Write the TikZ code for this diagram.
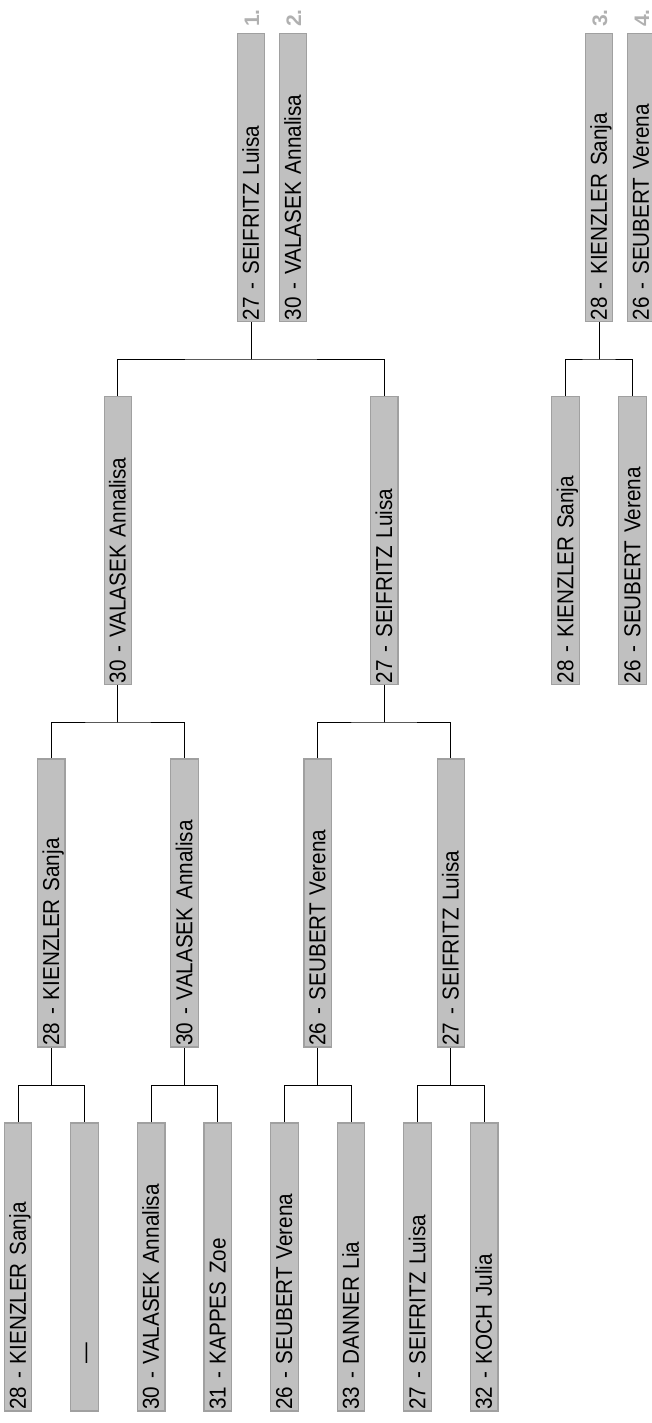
\documentclass[tikz,border=0pt]{standalone}
\usepackage{fontspec}
\setmainfont{Liberation Sans}
\newfontfamily\namefont[FakeStretch=0.9]{Liberation Sans}
\usetikzlibrary{positioning}
\definecolor{boxfill}{HTML}{C0C0C0}
\definecolor{boxline}{HTML}{A0A0A0}
\definecolor{rankgray}{HTML}{B0B0B0}

\begin{document}
\begin{tikzpicture}[x=1pt, y=-1pt,
	fighter/.style={draw=boxline, fill=boxfill, line width=1.2pt, rotate=90,
		minimum width=288pt, minimum height=27.5pt, inner xsep=1.5pt, inner ysep=0pt,
		text width=285pt, align=left, text height=21.5pt, text depth=6pt,
		font=\namefont\fontsize{23}{23}\selectfont},
	rank/.style={rotate=90, anchor=base west, inner sep=0pt, text=rankgray,
		font=\bfseries\fontsize{21}{21}\selectfont},
	line/.style={line width=1pt}]
	\useasboundingbox (0,0) rectangle (651,1423);
	\node[fighter] (q1) at (18,1267) {28 - KIENZLER Sanja};
	\node[fighter] (q2) at (84.6,1267) {\hspace*{46pt}—};
	\node[fighter] (q3) at (151.2,1267) {30 - VALASEK Annalisa};
	\node[fighter] (q4) at (217.8,1267) {31 - KAPPES Zoe};
	\node[fighter] (q5) at (284.4,1267) {26 - SEUBERT Verena};
	\node[fighter] (q6) at (351,1267) {33 - DANNER Lia};
	\node[fighter] (q7) at (417.6,1267) {27 - SEIFRITZ Luisa};
	\node[fighter] (q8) at (484.2,1267) {32 - KOCH Julia};
	\node[fighter] (s1) at (51.3,903) {28 - KIENZLER Sanja};
	\node[fighter] (s2) at (184.5,903) {30 - VALASEK Annalisa};
	\node[fighter] (s3) at (317.7,903) {26 - SEUBERT Verena};
	\node[fighter] (s4) at (450.9,903) {27 - SEIFRITZ Luisa};
	\node[fighter] (h1) at (117.9,540.5) {30 - VALASEK Annalisa};
	\node[fighter] (h2) at (384.3,540.5) {27 - SEIFRITZ Luisa};
	\node[fighter] (gold) at (251.1,177.5) {27 - SEIFRITZ Luisa};
	\node[fighter] (silver) at (293,177.5) {30 - VALASEK Annalisa};
	\node[fighter] (b1) at (565.5,540.5) {28 - KIENZLER Sanja};
	\node[fighter] (b2) at (632.5,540.5) {26 - SEUBERT Verena};
	\node[fighter] (bronze) at (599,177.5) {28 - KIENZLER Sanja};
	\node[fighter] (fourth) at (641,177.5) {26 - SEUBERT Verena};
	\node[rank] (r1) at ([xshift=8pt, yshift=6pt]gold.east) {1.};
	\node[rank] (r2) at ([xshift=8pt, yshift=6pt]silver.east) {2.};
	\node[rank] (r3) at ([xshift=8pt, yshift=6pt]bronze.east) {3.};
	\node[rank] (r4) at ([xshift=8pt, yshift=6pt]fourth.east) {4.};
	\coordinate (m1) at (51.3,1085);
	\coordinate (m2) at (184.5,1085);
	\coordinate (m3) at (317.7,1085);
	\coordinate (m4) at (450.9,1085);
	\coordinate (n1) at (117.9,722);
	\coordinate (n2) at (384.3,722);
	\coordinate (f1) at (251.1,359);
	\coordinate (f2) at (599,359);
	\draw[line] (q1.east) |- (m1) -| (q2.east) (m1) -- (s1.west);
	\draw[line] (q3.east) |- (m2) -| (q4.east) (m2) -- (s2.west);
	\draw[line] (q5.east) |- (m3) -| (q6.east) (m3) -- (s3.west);
	\draw[line] (q7.east) |- (m4) -| (q8.east) (m4) -- (s4.west);
	\draw[line] (s1.east) |- (n1) -| (s2.east) (n1) -- (h1.west);
	\draw[line] (s3.east) |- (n2) -| (s4.east) (n2) -- (h2.west);
	\draw[line] (h1.east) |- (f1) -| (h2.east) (f1) -- (gold.west);
	\draw[line] (b1.east) |- (f2) -| (b2.east) (f2) -- (bronze.west);
\end{tikzpicture}
\end{document}
